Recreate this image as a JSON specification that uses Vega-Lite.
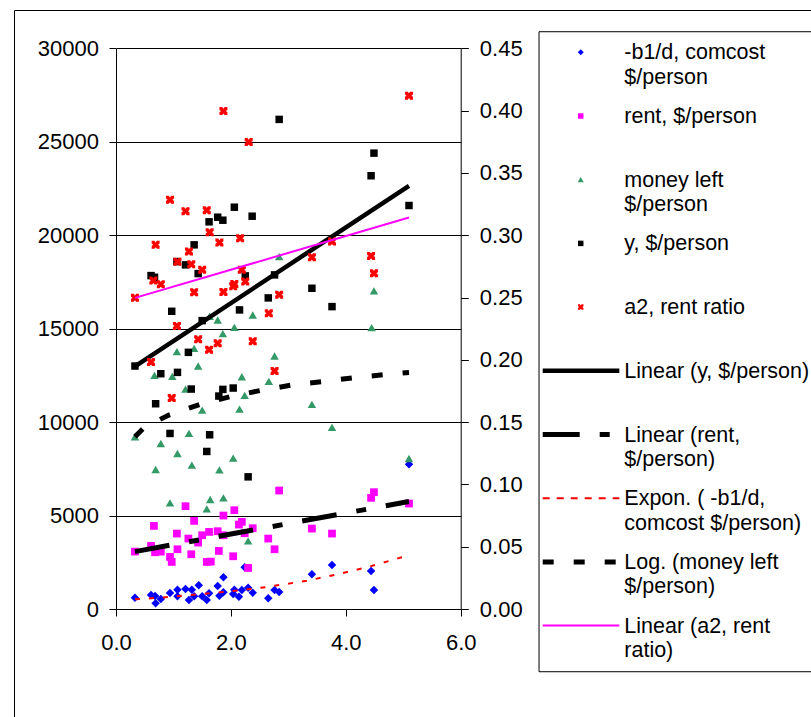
{
  "$schema": "https://vega.github.io/schema/vega-lite/v6.json",
  "width": 807,
  "height": 717,
  "autosize": {"type": "none"},
  "padding": {"left": 14, "top": 10, "right": -10, "bottom": -10},
  "background": "white",
  "config": {
    "view": {"stroke": "#000000", "strokeWidth": 1},
    "font": "Liberation Sans",
    "axis": {"labelFont": "Liberation Sans", "labelFontSize": 22, "labelColor": "#000000", "domainColor": "#000000", "tickColor": "#000000", "domainWidth": 1, "tickWidth": 1, "labelFlush": false}
  },
  "datasets": {
    "comcost": [
      {"x":0.33,"v":607},{"x":0.61,"v":750},{"x":0.68,"v":696},{"x":0.69,"v":304},{"x":0.78,"v":536},
      {"x":0.94,"v":857},{"x":1.07,"v":679},{"x":1.07,"v":1036},{"x":1.21,"v":1071},{"x":1.27,"v":482},
      {"x":1.32,"v":1036},{"x":1.36,"v":679},{"x":1.44,"v":1268},{"x":1.50,"v":679},{"x":1.58,"v":482},
      {"x":1.62,"v":839},{"x":1.77,"v":1232},{"x":1.80,"v":714},{"x":1.87,"v":1696},{"x":1.87,"v":893},
      {"x":2.04,"v":804},{"x":2.06,"v":1036},{"x":2.14,"v":661},{"x":2.19,"v":1018},{"x":2.24,"v":2232},
      {"x":2.30,"v":1143},{"x":2.38,"v":875},{"x":2.65,"v":571},{"x":2.76,"v":1018},{"x":2.84,"v":911},
      {"x":3.41,"v":1857},{"x":3.76,"v":2357},{"x":4.44,"v":2036},{"x":4.49,"v":1018},{"x":5.10,"v":7750}
    ],
    "rent": [
      {"x":0.33,"v":3071},{"x":0.61,"v":3375},{"x":0.66,"v":4446},{"x":0.68,"v":3036},{"x":0.78,"v":3071},
      {"x":0.94,"v":2786},{"x":0.97,"v":2518},{"x":1.06,"v":4036},{"x":1.07,"v":3196},{"x":1.21,"v":5500},
      {"x":1.26,"v":3768},{"x":1.31,"v":2929},{"x":1.36,"v":4714},{"x":1.43,"v":3554},{"x":1.50,"v":3946},
      {"x":1.58,"v":2518},{"x":1.62,"v":4125},{"x":1.65,"v":2536},{"x":1.77,"v":4161},{"x":1.79,"v":3107},
      {"x":1.87,"v":5000},{"x":1.87,"v":3946},{"x":2.04,"v":2821},{"x":2.06,"v":5286},{"x":2.14,"v":4518},
      {"x":2.19,"v":4661},{"x":2.24,"v":4054},{"x":2.30,"v":2196},{"x":2.38,"v":4321},{"x":2.65,"v":3768},
      {"x":2.76,"v":3196},{"x":2.84,"v":6339},{"x":3.41,"v":4304},{"x":3.76,"v":4036},{"x":4.44,"v":5946},
      {"x":4.49,"v":6250},{"x":5.10,"v":5643}
    ],
    "money": [
      {"x":0.33,"v":9214},{"x":0.67,"v":12500},{"x":0.69,"v":7464},{"x":0.78,"v":8857},{"x":0.94,"v":5679},
      {"x":0.98,"v":12446},{"x":1.06,"v":13768},{"x":1.07,"v":8321},{"x":1.21,"v":11768},{"x":1.27,"v":9393},
      {"x":1.32,"v":7696},{"x":1.36,"v":13946},{"x":1.43,"v":13000},{"x":1.50,"v":10643},{"x":1.58,"v":5357},
      {"x":1.63,"v":15661},{"x":1.64,"v":5857},{"x":1.77,"v":15464},{"x":1.80,"v":7446},{"x":1.86,"v":14732},
      {"x":1.87,"v":5946},{"x":2.04,"v":8071},{"x":2.06,"v":15071},{"x":2.15,"v":10696},{"x":2.19,"v":12429},
      {"x":2.24,"v":11429},{"x":2.30,"v":3643},{"x":2.38,"v":15732},{"x":2.66,"v":12179},{"x":2.76,"v":13536},
      {"x":2.84,"v":18857},{"x":3.41,"v":10946},{"x":3.76,"v":9714},{"x":4.45,"v":15054},{"x":4.49,"v":17018},
      {"x":5.10,"v":8054}
    ],
    "yinc": [
      {"x":0.33,"v":13000},{"x":0.61,"v":17839},{"x":0.67,"v":17748},{"x":0.69,"v":10982},{"x":0.78,"v":12589},
      {"x":0.94,"v":9393},{"x":0.97,"v":15929},{"x":1.06,"v":18589},{"x":1.07,"v":12661},{"x":1.21,"v":18413},
      {"x":1.26,"v":13732},{"x":1.31,"v":11768},{"x":1.36,"v":19484},{"x":1.43,"v":17946},{"x":1.50,"v":15429},
      {"x":1.58,"v":8429},{"x":1.62,"v":20716},{"x":1.63,"v":9321},{"x":1.77,"v":20963},{"x":1.79,"v":11393},
      {"x":1.86,"v":20802},{"x":1.86,"v":11750},{"x":2.04,"v":11822},{"x":2.06,"v":21498},{"x":2.15,"v":16002},
      {"x":2.25,"v":17823},{"x":2.30,"v":7071},{"x":2.37,"v":21016},{"x":2.65,"v":16645},{"x":2.76,"v":17877},
      {"x":2.84,"v":26196},{"x":3.41,"v":17161},{"x":3.76,"v":16179},{"x":4.44,"v":23180},{"x":4.49,"v":24391},
      {"x":5.10,"v":21589}
    ],
    "a2": [
      {"x":0.33,"v":0.2497},{"x":0.61,"v":0.1982},{"x":0.65,"v":0.2636},{"x":0.69,"v":0.2923},{"x":0.78,"v":0.2606},
      {"x":0.94,"v":0.3284},{"x":0.97,"v":0.1693},{"x":1.06,"v":0.2272},{"x":1.07,"v":0.2786},{"x":1.21,"v":0.3193},
      {"x":1.27,"v":0.2869},{"x":1.31,"v":0.2767},{"x":1.36,"v":0.2542},{"x":1.43,"v":0.2164},{"x":1.50,"v":0.2722},
      {"x":1.58,"v":0.3201},{"x":1.62,"v":0.2081},{"x":1.63,"v":0.3024},{"x":1.77,"v":0.2132},{"x":1.80,"v":0.2941},
      {"x":1.87,"v":0.3996},{"x":1.87,"v":0.2545},{"x":2.04,"v":0.259},{"x":2.06,"v":0.2609},{"x":2.16,"v":0.2976},
      {"x":2.19,"v":0.2722},{"x":2.25,"v":0.2628},{"x":2.31,"v":0.3747},{"x":2.38,"v":0.2148},{"x":2.66,"v":0.2373},
      {"x":2.76,"v":0.191},{"x":2.84,"v":0.2523},{"x":3.41,"v":0.2823},{"x":3.76,"v":0.2949},{"x":4.44,"v":0.2834},
      {"x":4.49,"v":0.2694},{"x":5.10,"v":0.412}
    ],
    "ylin": [{"x":0.33,"v":12982},{"x":5.10,"v":22643}],
    "rentlin": [{"x":0.33,"v":3071},{"x":5.10,"v":5750}],
    "expon": [
      {"x":0.33,"v":518},{"x":0.8,"v":615},{"x":1.19,"v":720},{"x":1.45,"v":790},{"x":1.98,"v":940},
      {"x":2.6,"v":1170},{"x":3.32,"v":1510},{"x":3.84,"v":1850},{"x":4.39,"v":2250},{"x":4.92,"v":2720},{"x":5.10,"v":2880}
    ],
    "logfit": [
      {"x":0.33,"v":9214},{"x":0.5,"v":9740},{"x":0.92,"v":10377},{"x":1.46,"v":10945},{"x":1.98,"v":11357},
      {"x":2.52,"v":11695},{"x":3.06,"v":11984},{"x":3.59,"v":12161},{"x":4.13,"v":12375},{"x":4.66,"v":12536},{"x":5.10,"v":12650}
    ],
    "a2lin": [{"x":0.33,"v":0.2497},{"x":5.10,"v":0.3142}],
    "rticks": [{"v":0.05},{"v":0.1},{"v":0.15},{"v":0.2},{"v":0.25},{"v":0.3},{"v":0.35},{"v":0.4}],
    "legend": [
      {"i":0,"label":" -b1/d, comcost\n$/person"},
      {"i":1,"label":"rent, $/person"},
      {"i":2,"label":"money left\n$/person"},
      {"i":3,"label":"y, $/person"},
      {"i":4,"label":"a2, rent ratio"},
      {"i":5,"label":"Linear (y, $/person)"},
      {"i":6,"label":"Linear (rent,\n$/person)"},
      {"i":7,"label":"Expon. ( -b1/d,\ncomcost $/person)"},
      {"i":8,"label":"Log. (money left\n$/person)"},
      {"i":9,"label":"Linear (a2, rent\nratio)"}
    ]
  },
  "resolve": {"scale": {"x": "independent", "y": "independent"}},
  "layer": [
    {
      "encoding": {
        "x": {"field": "x", "type": "quantitative",
              "scale": {"domain": [0, 6], "range": [102, 446.7], "nice": false, "zero": false},
              "axis": {"orient": "bottom", "offset": -118, "values": [0, 2, 4, 6], "format": ".1f", "tickSize": 7, "labelPadding": 16, "labelFlush": false, "title": null, "grid": false}},
        "y": {"field": "v", "type": "quantitative",
              "scale": {"domain": [0, 30000], "range": [599, 38.3], "nice": false, "zero": false},
              "axis": {"orient": "left", "offset": -102, "values": [0, 5000, 10000, 15000, 20000, 25000, 30000], "format": "d", "tickSize": 7, "labelPadding": 10.5, "labelFlush": false, "title": null, "grid": true, "gridColor": "#000000", "gridWidth": 1, "gridOpacity": 1}}
      },
      "layer": [
        {"data": {"name": "comcost"}, "mark": {"type": "point", "shape": "diamond", "filled": true, "color": "#0000FF", "size": 72, "opacity": 1}},
        {"data": {"name": "rent"}, "mark": {"type": "point", "shape": "square", "filled": true, "color": "#FF00FF", "size": 60, "opacity": 1}},
        {"data": {"name": "money"}, "mark": {"type": "point", "shape": "triangle-up", "filled": true, "color": "#339966", "size": 72, "opacity": 1}},
        {"data": {"name": "yinc"}, "mark": {"type": "point", "shape": "square", "filled": true, "color": "#000000", "size": 56, "opacity": 1}},
        {"data": {"name": "ylin"}, "mark": {"type": "line", "color": "#000000", "strokeWidth": 4.5}},
        {"data": {"name": "rentlin"}, "mark": {"type": "line", "color": "#000000", "strokeWidth": 5, "strokeDash": [35, 20, 10, 20]}},
        {"data": {"name": "expon"}, "mark": {"type": "line", "color": "#FF0000", "strokeWidth": 2, "strokeDash": [5, 9]}},
        {"data": {"name": "logfit"}, "mark": {"type": "line", "color": "#000000", "strokeWidth": 5, "strokeDash": [11, 20]}}
      ]
    },
    {
      "encoding": {
        "x": {"field": "x", "type": "quantitative",
              "scale": {"domain": [0, 6], "range": [102, 446.7], "nice": false, "zero": false},
              "axis": null},
        "y": {"field": "v", "type": "quantitative",
              "scale": {"domain": [0, 0.45], "range": [599, 38.3], "nice": false, "zero": false},
              "axis": {"orient": "right", "offset": -360.3, "values": [0, 0.05, 0.1, 0.15, 0.2, 0.25, 0.3, 0.35, 0.4, 0.45], "format": ".2f", "tickSize": 7.6, "labelPadding": 11, "labelFlush": false, "title": null, "grid": false}}
      },
      "layer": [
        {"data": {"name": "rticks"}, "mark": {"type": "tick", "orient": "horizontal", "color": "#000000", "thickness": 1, "size": 7.4, "xOffset": -3.7},
         "encoding": {"x": {"datum": 6, "type": "quantitative"}}},
        {"data": {"name": "a2"}, "mark": {"type": "point", "shape": "M-1,-1L-0.3,-1L0,-0.6L0.3,-1L1,-1L1,-0.3L0.6,0L1,0.3L1,1L0.3,1L0,0.6L-0.3,1L-1,1L-1,0.3L-0.6,0L-1,-0.3Z", "filled": true, "color": "#FF0000", "size": 64, "opacity": 1}},
        {"data": {"name": "a2lin"}, "mark": {"type": "line", "color": "#FF00FF", "strokeWidth": 2}}
      ]
    },
    {
      "layer": [
        {
          "data": {"values": [{"box": 1}]},
          "mark": {"type": "rect", "fill": "transparent", "stroke": "#000000", "strokeWidth": 1},
          "encoding": {
            "x": {"datum": -0.045, "type": "quantitative", "scale": {"domain": [0, 1], "range": [528.7, 610.3], "nice": false, "zero": false}, "axis": null},
            "x2": {"datum": 3.5},
            "y": {"datum": -0.323, "type": "quantitative", "scale": {"domain": [0, 9], "range": [42.3, 615.6], "nice": false, "zero": false}, "axis": null},
            "y2": {"datum": 9.724}
          }
        },
        {
          "data": {"name": "legend"},
          "transform": [{"filter": "datum.i == 5"}],
          "mark": {"type": "rule", "color": "#000000", "strokeWidth": 4.5},
          "encoding": {
            "x": {"datum": 0, "type": "quantitative", "scale": {"domain": [0, 1], "range": [528.7, 610.3], "nice": false, "zero": false}, "axis": null},
            "x2": {"datum": 0.939},
            "y": {"field": "i", "type": "quantitative", "scale": {"domain": [0, 9], "range": [42.3, 615.6], "nice": false, "zero": false}, "axis": null}
          }
        },
        {
          "data": {"name": "legend"},
          "transform": [{"filter": "datum.i == 6"}],
          "mark": {"type": "rule", "color": "#000000", "strokeWidth": 5, "strokeDash": [37, 20, 10, 20]},
          "encoding": {
            "x": {"datum": 0, "type": "quantitative", "scale": {"domain": [0, 1], "range": [528.7, 610.3], "nice": false, "zero": false}, "axis": null},
            "x2": {"datum": 0.939},
            "y": {"field": "i", "type": "quantitative", "scale": {"domain": [0, 9], "range": [42.3, 615.6], "nice": false, "zero": false}, "axis": null}
          }
        },
        {
          "data": {"name": "legend"},
          "transform": [{"filter": "datum.i == 7"}],
          "mark": {"type": "rule", "color": "#FF0000", "strokeWidth": 2, "strokeDash": [7, 7]},
          "encoding": {
            "x": {"datum": 0, "type": "quantitative", "scale": {"domain": [0, 1], "range": [528.7, 610.3], "nice": false, "zero": false}, "axis": null},
            "x2": {"datum": 0.939},
            "y": {"field": "i", "type": "quantitative", "scale": {"domain": [0, 9], "range": [42.3, 615.6], "nice": false, "zero": false}, "axis": null}
          }
        },
        {
          "data": {"name": "legend"},
          "transform": [{"filter": "datum.i == 8"}],
          "mark": {"type": "rule", "color": "#000000", "strokeWidth": 5, "strokeDash": [11, 20]},
          "encoding": {
            "x": {"datum": 0, "type": "quantitative", "scale": {"domain": [0, 1], "range": [528.7, 610.3], "nice": false, "zero": false}, "axis": null},
            "x2": {"datum": 0.939},
            "y": {"field": "i", "type": "quantitative", "scale": {"domain": [0, 9], "range": [42.3, 615.6], "nice": false, "zero": false}, "axis": null}
          }
        },
        {
          "data": {"name": "legend"},
          "transform": [{"filter": "datum.i == 9"}],
          "mark": {"type": "rule", "color": "#FF00FF", "strokeWidth": 2},
          "encoding": {
            "x": {"datum": 0, "type": "quantitative", "scale": {"domain": [0, 1], "range": [528.7, 610.3], "nice": false, "zero": false}, "axis": null},
            "x2": {"datum": 0.939},
            "y": {"field": "i", "type": "quantitative", "scale": {"domain": [0, 9], "range": [42.3, 615.6], "nice": false, "zero": false}, "axis": null}
          }
        },
        {
          "data": {"name": "legend"},
          "transform": [{"filter": "datum.i == 0"}],
          "mark": {"type": "point", "shape": "diamond", "filled": true, "color": "#0000FF", "size": 36, "opacity": 1},
          "encoding": {
            "x": {"datum": 0.466, "type": "quantitative", "scale": {"domain": [0, 1], "range": [528.7, 610.3], "nice": false, "zero": false}, "axis": null},
            "y": {"field": "i", "type": "quantitative", "scale": {"domain": [0, 9], "range": [42.3, 615.6], "nice": false, "zero": false}, "axis": null}
          }
        },
        {
          "data": {"name": "legend"},
          "transform": [{"filter": "datum.i == 1"}],
          "mark": {"type": "point", "shape": "square", "filled": true, "color": "#FF00FF", "size": 30, "opacity": 1},
          "encoding": {
            "x": {"datum": 0.466, "type": "quantitative", "scale": {"domain": [0, 1], "range": [528.7, 610.3], "nice": false, "zero": false}, "axis": null},
            "y": {"field": "i", "type": "quantitative", "scale": {"domain": [0, 9], "range": [42.3, 615.6], "nice": false, "zero": false}, "axis": null}
          }
        },
        {
          "data": {"name": "legend"},
          "transform": [{"filter": "datum.i == 2"}],
          "mark": {"type": "point", "shape": "triangle-up", "filled": true, "color": "#339966", "size": 36, "opacity": 1},
          "encoding": {
            "x": {"datum": 0.466, "type": "quantitative", "scale": {"domain": [0, 1], "range": [528.7, 610.3], "nice": false, "zero": false}, "axis": null},
            "y": {"field": "i", "type": "quantitative", "scale": {"domain": [0, 9], "range": [42.3, 615.6], "nice": false, "zero": false}, "axis": null}
          }
        },
        {
          "data": {"name": "legend"},
          "transform": [{"filter": "datum.i == 3"}],
          "mark": {"type": "point", "shape": "square", "filled": true, "color": "#000000", "size": 30, "opacity": 1},
          "encoding": {
            "x": {"datum": 0.466, "type": "quantitative", "scale": {"domain": [0, 1], "range": [528.7, 610.3], "nice": false, "zero": false}, "axis": null},
            "y": {"field": "i", "type": "quantitative", "scale": {"domain": [0, 9], "range": [42.3, 615.6], "nice": false, "zero": false}, "axis": null}
          }
        },
        {
          "data": {"name": "legend"},
          "transform": [{"filter": "datum.i == 4"}],
          "mark": {"type": "point", "shape": "M-1,-1L-0.3,-1L0,-0.6L0.3,-1L1,-1L1,-0.3L0.6,0L1,0.3L1,1L0.3,1L0,0.6L-0.3,1L-1,1L-1,0.3L-0.6,0L-1,-0.3Z", "filled": true, "color": "#FF0000", "size": 30, "opacity": 1},
          "encoding": {
            "x": {"datum": 0.466, "type": "quantitative", "scale": {"domain": [0, 1], "range": [528.7, 610.3], "nice": false, "zero": false}, "axis": null},
            "y": {"field": "i", "type": "quantitative", "scale": {"domain": [0, 9], "range": [42.3, 615.6], "nice": false, "zero": false}, "axis": null}
          }
        },
        {
          "data": {"name": "legend"},
          "mark": {"type": "text", "align": "left", "baseline": "alphabetic", "dy": 7, "fontSize": 21.5, "font": "Liberation Sans", "color": "#000000", "lineBreak": "\n", "lineHeight": 24.5},
          "encoding": {
            "x": {"datum": 1, "type": "quantitative", "scale": {"domain": [0, 1], "range": [528.7, 610.3], "nice": false, "zero": false}, "axis": null},
            "y": {"field": "i", "type": "quantitative", "scale": {"domain": [0, 9], "range": [42.3, 615.6], "nice": false, "zero": false}, "axis": null},
            "text": {"field": "label", "type": "nominal"}
          }
        }
      ]
    }
  ]
}
